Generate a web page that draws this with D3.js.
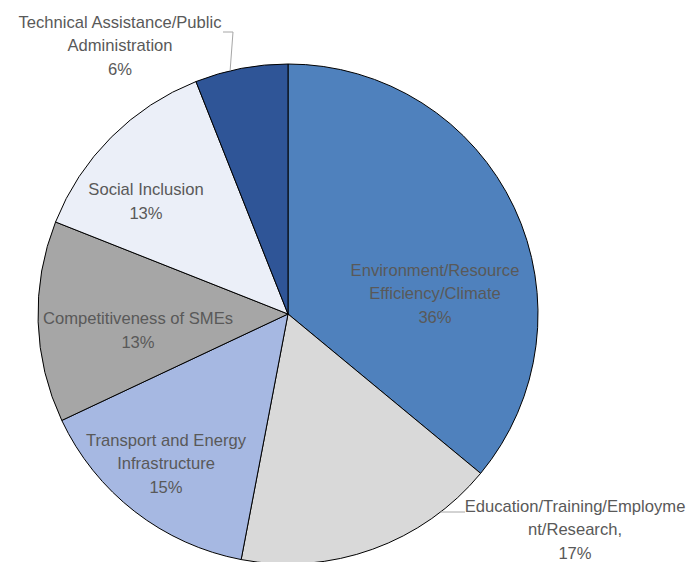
<!DOCTYPE html>
<html>
<head>
<meta charset="utf-8">
<script src="https://cdn.jsdelivr.net/npm/d3@7"></script>
<style>
  html, body { margin: 0; padding: 0; background: #fff; }
  svg { display: block; }
  text { font-family: "Liberation Sans", Arial, sans-serif; font-size: 16.6px; fill: #595959; }
</style>
</head>
<body>
<svg id="chart" width="686" height="562"></svg>
<script>
// Share of funding by thematic area (percent), clockwise from 12 o'clock
const categories = [
  "Environment/Resource Efficiency/Climate",
  "Education/Training/Employment/Research",
  "Transport and Energy Infrastructure",
  "Competitiveness of SMEs",
  "Social Inclusion",
  "Technical Assistance/Public Administration"
];
const values = [36, 17, 15, 13, 13, 6];
const colors = ["#4f81bd", "#d9d9d9", "#a6b8e2", "#a6a6a6", "#ebeff8", "#2f5597"];
// Label text as broken onto lines
const labelLines = [
  ["Environment/Resource", "Efficiency/Climate", "36%"],
  ["Education/Training/Employme", "nt/Research,", "17%"],
  ["Transport and Energy", "Infrastructure", "15%"],
  ["Competitiveness of SMEs", "13%"],
  ["Social Inclusion", "13%"],
  ["Technical Assistance/Public", "Administration", "6%"]
];

const svg = d3.select("#chart");
const cx = 288, cy = 314, r = 250;

const pie = d3.pie().sort(null).value(d => d);
const arcs = pie(values);
const arc = d3.arc().innerRadius(0).outerRadius(r);

const g = svg.append("g").attr("transform", `translate(${cx},${cy})`);

g.selectAll("path.slice")
  .data(arcs)
  .join("path")
  .attr("class", "slice")
  .attr("d", arc)
  .attr("fill", (d, i) => colors[i])
  .attr("stroke", "#000")
  .attr("stroke-width", 1);

// Label centres (middle line) in chart coordinates
const lineH = 23.5;
const labelPos = [
  { x: 435, y: 293 },
  { x: 575, y: 529 },
  { x: 166, y: 463 },
  { x: 138, y: 330 },
  { x: 146, y: 201 },
  { x: 120, y: 45 }
].map(p => ({ x: p.x - cx, y: p.y - cy }));

// Leader lines for the two labels placed outside the pie
function rimPoint(d, frac) {
  const a = d.startAngle + (d.endAngle - d.startAngle) * frac;
  return [Math.sin(a) * r, -Math.cos(a) * r];
}
const techRim = rimPoint(arcs[5], 0.38);
g.append("polyline")
  .attr("points", [[223 - cx, 32 - cy], [233 - cx, 32 - cy], techRim].map(p => p.join(",")).join(" "))
  .attr("fill", "none").attr("stroke", "#a6a6a6").attr("stroke-width", 1);
const eduY = 512 - cy;
const eduRim = [Math.sqrt(r * r - eduY * eduY), eduY];
g.append("polyline")
  .attr("points", [eduRim, [465 - cx, eduY]].map(p => p.join(",")).join(" "))
  .attr("fill", "none").attr("stroke", "#a6a6a6").attr("stroke-width", 1);

labelLines.forEach((lines, i) => {
  const p = labelPos[i];
  const t = g.append("text")
    .attr("text-anchor", "middle")
    .attr("x", p.x)
    .attr("y", p.y - (lines.length - 1) * lineH / 2 + 6);
  lines.forEach((ln, j) => {
    t.append("tspan").attr("x", p.x).attr("dy", j === 0 ? 0 : lineH).text(ln);
  });
});
</script>
</body>
</html>
